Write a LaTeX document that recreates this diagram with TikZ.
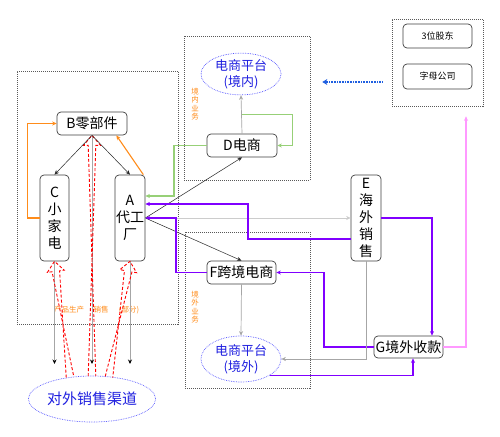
\documentclass[tikz,border=0pt]{standalone}
\usepackage{fontspec}
\setmainfont{Noto Sans CJK SC}
\usetikzlibrary{arrows.meta,calc,shapes.geometric}
\definecolor{orng}{HTML}{FF8C1A}
\definecolor{grn}{HTML}{97D077}
\definecolor{purp}{HTML}{8000FF}
\definecolor{pnk}{HTML}{FF99FF}
\definecolor{blu}{HTML}{2020E0}
\definecolor{lblu}{HTML}{5555FF}
\definecolor{dblu}{HTML}{1F5FE0}
\tikzset{
  box/.style={draw=black!75, line width=0.7pt, rounded corners=4pt, fill=white, align=center, inner sep=1pt, font=\fontsize{14}{17}\selectfont},
  sbox/.style={box, font=\fontsize{9}{11}\selectfont},
  plat/.style={ellipse, draw=lblu, densely dotted, line width=0.7pt, inner sep=0pt, align=center, text=blu, font=\fontsize{13}{16}\selectfont},
  frame/.style={draw=black!65, line width=0.6pt, dash pattern=on 1pt off 1pt, inner sep=0pt},
  tip/.style={-{Stealth[length=4.5pt,width=4pt]}},
  blk/.style={tip, draw=black!85, line width=0.5pt},
  gry/.style={tip, draw=black!35, line width=0.7pt},
  org/.style={tip, draw=orng, line width=1.1pt},
  gre/.style={tip, draw=grn, line width=1.1pt},
  pur/.style={tip, draw=purp, line width=1.2pt},
  lab/.style={text=orng, font=\fontsize{7.5}{8.5}\selectfont, inner sep=0pt, align=center},
  flex/.style={draw=red, line width=0.9pt, dash pattern=on 3pt off 2pt},
}
\newcommand\flexarr[2]{%
  \draw[flex] ($(#1)!3.8pt!90:(#2)$) -- ($($(#2)!10pt!(#1)$)!3.8pt!-90:(#2)$)
    -- ($($(#2)!10pt!(#1)$)!8.5pt!-90:(#2)$) -- (#2)
    -- ($($(#2)!10pt!(#1)$)!8.5pt!90:(#2)$)
    -- ($($(#2)!10pt!(#1)$)!3.8pt!90:(#2)$) -- ($(#1)!3.8pt!-90:(#2)$);}
\begin{document}
\begin{tikzpicture}[x=1pt,y=-1pt]
\useasboundingbox[fill=white] (0,0) rectangle (500,436);
% frames
\node[frame, minimum width=161pt, minimum height=253pt] (fl) at (97.5,197.5) {};
\node[frame, minimum width=126pt, minimum height=144pt] (fm1) at (247,108) {};
\node[frame, minimum width=125pt, minimum height=156pt] (fm2) at (247.5,310) {};
\node[frame, minimum width=91pt, minimum height=87pt] (fr) at (437.5,62.5) {};
% labels
\node[lab] (l1) at (195,104) {境\\内\\业\\务};
\node[lab] (l2) at (195,307) {境\\外\\业\\务};
\node[lab] (l3) at (69,310) {产品生产};
\node[lab] (l4) at (101,310) {销售};
\node[lab] (l5) at (129,310) {(部分)};
% nodes
\node[box, minimum width=70pt, minimum height=23pt] (B) at (92,123.5) {B零部件};
\node[box, minimum width=29pt, minimum height=86pt] (C) at (54.5,218) {C\\小\\家\\电};
\node[box, minimum width=29pt, minimum height=86pt] (A) at (130,218) {A\\代工\\厂};
\node[box, minimum width=70pt, minimum height=23pt] (D) at (242,145.5) {D电商};
\node[box, minimum width=30pt, minimum height=86pt] (E) at (366,218) {E\\海\\外\\销\\售};
\node[box, minimum width=69pt, minimum height=23pt] (F) at (241.5,272.5) {F跨境电商};
\node[box, minimum width=69pt, minimum height=22pt] (G) at (408.5,347) {G境外收款};
\node[sbox, minimum width=69pt, minimum height=24pt] (S1) at (437.5,36) {3位股东};
\node[sbox, minimum width=69pt, minimum height=25pt] (S2) at (437.5,76.5) {字母公司};
\node[plat, minimum width=80pt, minimum height=38pt] (P1) at (241,74) {电商平台\\(境内)};
\node[plat, minimum width=80pt, minimum height=46pt] (P2) at (241,359) {电商平台\\(境外)};
\node[plat, minimum width=110pt, minimum height=46pt, font=\fontsize{15}{18}\selectfont] (Q) at (92,399) {对外销售渠道};
% downward gray lines
\draw[gry, -{Stealth[length=4.5pt,width=4pt,black]}] (C.south) -- (C.south |- 0,364);
\draw[gry, -{Stealth[length=4.5pt,width=4pt,black]}] (B.south) -- (B.south |- 0,364);
\draw[gry, -{Stealth[length=4.5pt,width=4pt,black]}] (A.south) -- (A.south |- 0,364);
% red flex arrows
\coordinate (qc) at (70,377);
\coordinate (qb) at (92,376);
\coordinate (qa) at (109,377);
\flexarr{qc}{C.south}
\flexarr{qb}{B.south}
\flexarr{qa}{A.south}
% B links
\draw[blk] (B.south) -- (C.north);
\draw[blk] (B.south) -- (A.north);
\draw[org] ([xshift=-2pt]A.north east) -- ([xshift=-11pt]B.south east);
\draw[org] (C.west) -- ++(-12,0) |- (B.west);
% D links
\draw[gry] (D.north) -- (P1.south);
\coordinate (g1) at ($(D.north)!0.5!(P1.south)$);
\draw[gre] (g1) -- ++(51,0) |- (D.east);
\draw[gre] (D.west) -| (174,196) -- (A.east |- 0,196);
% A links
\draw[gry, black!20] (A.east) -- (E.west);
\draw[blk] (A.east) -- (D.south);
\draw[blk] (A.east) -- (F.north);
\draw[pur] (E.west |- 0,239) -- (248,239) -- (248,204) -- (A.east |- 0,204);
\draw[pur] (F.west) -- (176,272.5) -- (176,218) -- (A.east);
% E, F, G links
\draw[pur] (E.east) -| ([xshift=23.5pt]G.north);
\draw[pur] (G.west) -- (324,347) |- (F.east);
\draw[gry] (E.south) |- (P2.east);
\draw[gry] (F.south) -- (P2.north);
\draw[pur] (P2.-30) -| ([xshift=4.5pt]G.south);
\draw[tip, draw=pnk, line width=1.5pt, shorten >=10pt] (G.east) -| ([xshift=28.5pt]fr.south);
\draw[-{Stealth[length=5pt,width=6pt]}, draw=dblu, line width=2.5pt, dash pattern=on 1pt off 0.6pt, shorten <=9pt, shorten >=12pt] (fr.west |- 0,82) -- (fm1.east |- 0,82);
\end{tikzpicture}
\end{document}
